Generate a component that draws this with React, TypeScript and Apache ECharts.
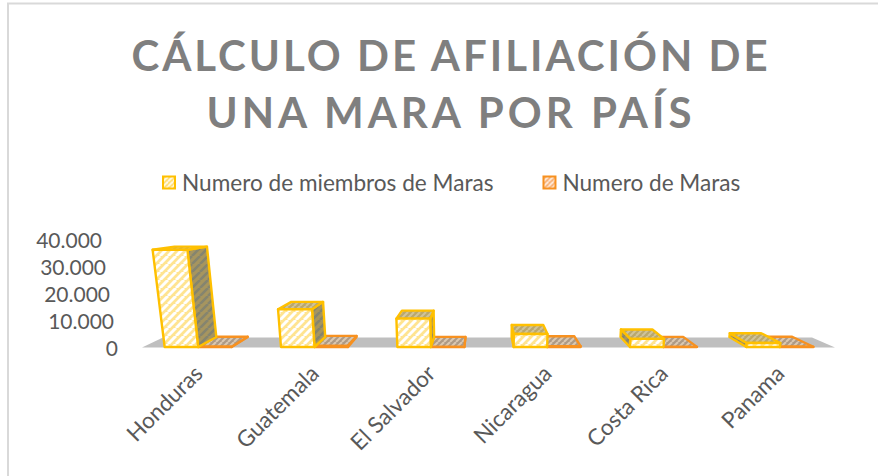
import React, { useEffect, useRef } from "react";
import * as echarts from "echarts";

const categories = ["Honduras", "Guatemala", "El Salvador", "Nicaragua", "Costa Rica", "Panama"];
const miembros = [36000, 14000, 10500, 4800, 3000, 1500];
const maras = [110, 430, 50, 270, 50, 90];
const yTicks = [0, 10000, 20000, 30000, 40000];

const GREY = "#595959";
const FONT = "Lato, Carlito, sans-serif";

function hatch(bg: string, fg: string, size = 8, lw = 2.6) {
  const c = document.createElement("canvas");
  c.width = size;
  c.height = size;
  const g = c.getContext("2d")!;
  g.fillStyle = bg;
  g.fillRect(0, 0, size, size);
  g.strokeStyle = fg;
  g.lineWidth = lw;
  for (let i = -size; i <= size * 2; i += size) {
    g.beginPath();
    g.moveTo(i, size);
    g.lineTo(i + size, 0);
    g.stroke();
  }
  return { image: c, repeat: "repeat" as const };
}

export default function App() {
  const ref = useRef<HTMLDivElement>(null);
  useEffect(() => {
    document.body.style.margin = "0";
    const chart = echarts.init(ref.current!, null, { renderer: "svg" });

    const yFront = hatch("#FFE491", "#FFFFFF", 8, 3);
    const ySide = hatch("#A6955F", "#85856F");
    const yTop = hatch("#B8A76E", "#CFC39A", 6, 2);
    const mFront = hatch("#E8BC92", "#C9A582", 6, 2);
    const mTop = hatch("#AD9A86", "#DAC8B2", 6, 2);
    const yIcon = hatch("#FFDD70", "#FFFBEF", 5, 1.8);
    const mIcon = hatch("#F6A96A", "#FFF3E8", 5, 1.8);

    const CX = 482;
    const K = 0.064;
    const LEAN = 0.00039;
    const DY = 10;
    const HS = 0.93;

    const bar = (
      side: -1 | 1,
      stroke: string,
      front: any,
      sideFill: any,
      top: any,
    ) => (params: any, api: any) => {
      const idx = api.value(0);
      const base = api.coord([idx, 0]);
      const val = api.coord([idx, api.value(1)]);
      const band = api.size([1, 0])[0];
      const w = band * 0.288;
      const x0 = side < 0 ? base[0] - w : base[0];
      const x1 = x0 + w;
      const y0 = base[1];
      const h = y0 - val[1];
      // simple projection that reproduces the picture's 3D view
      const pt = (x: number, height: number, back: boolean): number[] => {
        const bx = back ? x + (CX - x) * K : x;
        const hh = back ? height * HS : height;
        const yy = (back ? y0 - DY : y0) - hh;
        return [bx + (bx - CX) * hh * LEAN, yy];
      };
      const style = (fill: any) => ({ fill, stroke, lineWidth: 2.4, lineJoin: "round" });
      const children: any[] = [];
      const poly = (pts: number[][], fill: any) =>
        children.push({ type: "polygon", shape: { points: pts }, style: style(fill) });
      if (x1 < CX) {
        poly([pt(x1, 0, false), pt(x1, 0, true), pt(x1, h, true), pt(x1, h, false)], sideFill);
      }
      if (x0 > CX) {
        poly([pt(x0, 0, false), pt(x0, 0, true), pt(x0, h, true), pt(x0, h, false)], sideFill);
      }
      poly([pt(x0, h, false), pt(x1, h, false), pt(x1, h, true), pt(x0, h, true)], top);
      poly([pt(x0, 0, false), pt(x1, 0, false), pt(x1, h, false), pt(x0, h, false)], front);
      return { type: "group", children };
    };

    const floor = (params: any, api: any) => {
      const cs = params.coordSys;
      const by = cs.y + cs.height + 0.5;
      return {
        type: "polygon",
        shape: {
          points: [
            [cs.x + 2, by],
            [cs.x + 23, by - 10],
            [cs.x + cs.width - 26, by - 10],
            [cs.x + cs.width - 3, by],
          ],
        },
        style: { fill: "#BFBFBF" },
      };
    };

    // the reference's tick labels step sideways with the 3D view
    const tickRich: Record<string, any> = {};
    yTicks.forEach((t, i) => {
      tickRich["t" + t] = { fontFamily: FONT, fontSize: 21, color: GREY, padding: [0, 4 * i, 0, 0] };
    });

    chart.setOption({
      animation: false,
      backgroundColor: "#fff",
      title: {
        text: "CÁLCULO DE AFILIACIÓN DE\nUNA MARA POR PAÍS",
        left: 446,
        top: 21,
        textAlign: "center",
        textStyle: { fontFamily: FONT, fontSize: 42, fontWeight: "bold", color: "#7F7F7F", lineHeight: 57 },
      },
      legend: {
        data: ["Numero de miembros de Maras", "Numero de Maras"],
        left: 157,
        top: 166,
        icon: "rect",
        itemWidth: 12,
        itemHeight: 12,
        itemGap: 49,
        textStyle: { fontFamily: FONT, fontSize: 22.6, color: GREY, padding: [0, 0, 0, 2] },
      },
      grid: { left: 140, top: 239, width: 698, height: 108 },
      xAxis: {
        type: "category",
        data: categories,
        axisLine: { show: false },
        axisTick: { show: false },
        axisLabel: {
          interval: 0,
          rotate: 45,
          margin: 22,
          fontFamily: FONT,
          fontSize: 22.5,
          color: GREY,
        },
      },
      yAxis: {
        type: "value",
        min: yTicks[0],
        max: yTicks[yTicks.length - 1],
        interval: yTicks[1],
        splitLine: { show: false },
        axisLine: { show: false },
        axisTick: { show: false },
        axisLabel: {
          margin: 22,
          rich: tickRich,
          formatter: (v: number) =>
            "{t" + v + "|" + (v === 0 ? "0" : String(v).replace(/(\d)(\d{3})$/, "$1.$2")) + "}",
        },
      },
      graphic: [
        {
          type: "polyline",
          shape: { points: [[8, 476], [8, 3.5], [878, 3.5]] },
          style: { fill: "none", stroke: "#D9D9D9", lineWidth: 2 },
          silent: true,
        },
      ],
      series: [
        { type: "custom", name: "suelo", data: [[0, 0]], renderItem: floor, silent: true, z: 1, clip: false },
        {
          type: "custom",
          name: "Numero de Maras",
          data: categories.map((_, i) => [i, maras[i]]),
          encode: { x: 0, y: 1 },
          renderItem: bar(1, "#F79120", mFront, mTop, mTop),
          itemStyle: { color: mIcon, borderColor: "#F79120", borderWidth: 2 },
          z: 2,
          clip: false,
        },
        {
          type: "custom",
          name: "Numero de miembros de Maras",
          data: categories.map((_, i) => [i, miembros[i]]),
          encode: { x: 0, y: 1 },
          renderItem: bar(-1, "#FFC000", yFront, ySide, yTop),
          itemStyle: { color: yIcon, borderColor: "#FFC000", borderWidth: 2 },
          z: 3,
          clip: false,
        },
      ],
    });

    ref.current!.querySelectorAll("text").forEach((t) => {
      const s = t.textContent || "";
      if (s.includes("CÁLCULO")) (t as SVGTextElement).style.letterSpacing = "3px";
      if (s.includes("UNA MARA")) (t as SVGTextElement).style.letterSpacing = "4px";
    });

    return () => chart.dispose();
  }, []);
  return <div ref={ref} style={{ width: 878, height: 476 }} />;
}
